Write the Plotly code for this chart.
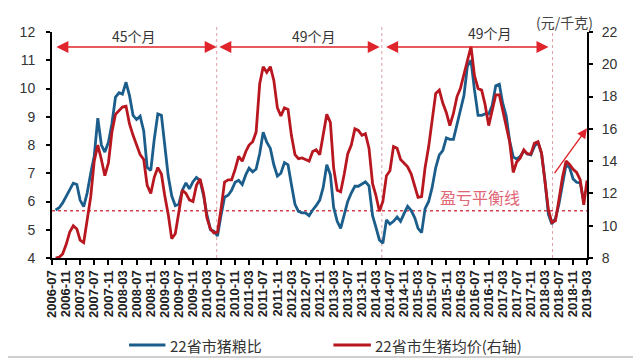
import pandas as pd
import plotly.graph_objects as go

# ---------------- data ----------------
start_month = "2006-08-01"
tick_start, tick_end = "2006-07-01", "2019-03-01"

ratio_22 = [5.7, 5.78, 5.95, 6.2, 6.4, 6.65, 6.6, 6.05, 5.82, 6.3, 7.0, 7.6, 8.95, 8.0, 7.75, 8.1,
            8.75, 9.7, 9.85, 9.8, 10.22, 9.75, 9.05, 8.9, 9.02, 8.5, 7.2, 7.1, 8.2, 9.1, 9.05, 8.0,
            6.9, 6.2, 5.85, 5.9, 6.4, 6.66, 6.45, 6.7, 6.85, 6.75, 6.2, 5.55, 5.0, 4.95, 4.78, 5.5,
            6.15, 6.22, 6.4, 6.68, 6.75, 6.6, 6.95, 7.18, 7.05, 7.15, 7.7, 8.45, 8.1, 7.88, 7.3, 6.9,
            7.0, 7.38, 7.3, 6.6, 5.9, 5.65, 5.6, 5.6, 5.5, 5.7, 5.85, 6.05, 6.5, 7.3, 6.95, 5.8,
            5.3, 5.05, 5.55, 6.0, 6.3, 6.54, 6.54, 6.62, 6.7, 6.55, 5.5, 5.1, 4.64, 4.52, 5.35, 5.2,
            5.3, 5.45, 5.3, 5.58, 5.83, 5.68, 5.42, 5.05, 4.9, 5.75, 6.0, 6.5, 7.2, 7.65, 7.8, 8.25,
            8.2, 8.2, 8.7, 9.2, 9.75, 10.8, 11.0, 9.95, 9.05, 9.05, 9.1, 9.1, 9.4, 10.1, 10.15, 9.5,
            9.03, 8.15, 7.58, 7.5, 7.6, 7.8, 7.68, 7.65, 7.95, 8.1, 7.7, 6.8, 5.55, 5.2, 5.4, 5.9,
            6.6, 7.3, 7.2, 6.8, 6.68, 6.66, 6.0]

price_22 = [8.0, 8.05, 8.25, 8.85, 9.6, 10.0, 9.8, 9.1, 8.95, 10.5, 11.8, 14.0, 15.0, 14.1, 13.1, 13.9,
            15.8, 16.9, 17.15, 17.35, 17.4, 16.3, 15.6, 15.0, 14.4, 14.1, 12.5, 12.0, 13.0, 13.6, 13.2, 11.9,
            10.7, 9.2, 9.5, 10.8, 12.2, 12.0, 11.6, 11.5, 12.5, 12.9, 12.0, 10.5, 9.8, 9.55, 9.6, 11.0,
            12.7, 12.84, 12.84, 13.5, 14.3, 14.0, 14.6, 15.0, 15.2, 15.8, 18.8, 19.85, 19.5, 19.85, 19.0, 17.3,
            16.8, 17.3, 17.2, 15.6, 14.4, 14.15, 14.2, 14.1, 14.0, 14.6, 14.7, 14.4, 15.7, 16.9, 16.4, 13.6,
            12.2, 12.1, 13.2, 14.45, 15.0, 16.0, 15.9, 15.6, 15.7, 14.8, 12.6, 11.9, 10.9, 11.5, 13.1, 13.4,
            14.9, 14.8, 14.1, 13.9, 13.65, 13.2, 12.5, 11.75, 11.8, 13.6, 14.9, 16.6, 18.2, 18.4, 17.6, 17.0,
            16.2, 16.95, 18.0, 18.5, 19.4, 20.3, 21.1, 19.3, 18.5, 18.4, 17.5, 16.2, 17.1, 18.1, 18.1, 17.2,
            16.0, 15.2, 13.3, 13.95, 14.2, 14.7, 14.45, 14.45, 15.1, 15.2, 14.5, 13.0, 11.0, 10.2, 10.3, 11.6,
            13.0, 14.0, 13.8, 13.5, 13.3, 12.85, 11.3, 12.8]

breakeven_ratio = 5.67
cycle_labels = ["45个月", "49个月", "49个月"]
cycle_bounds = [("2006-07-26", "2010-05-25"), ("2010-06-04", "2014-04-04"), ("2014-05-16", "2018-04-02")]
cycle_label_x = ["2008-06-10", "2012-09-10", "2016-11-15"]
cycle_label_y = [11.5, 11.5, 11.62]
cycle_divs = ["2010-05-25", "2014-04-22", "2018-05-07"]
name_ratio = "22省市猪粮比"
name_price = "22省市生猪均价(右轴)"

# ---------------- figure ----------------
BLUE = "#1b5d8b"
RED = "#b8171f"
ARROW = "#e0242b"
FONT = "Liberation Sans, Arial, sans-serif"
CJK = "Noto Sans CJK SC, sans-serif"

x_ratio = pd.date_range(start_month, periods=len(ratio_22), freq="MS")
x_price = pd.date_range(start_month, periods=len(price_22), freq="MS")
ticks = pd.date_range(tick_start, tick_end, freq="4MS")

fig = go.Figure()
fig.add_trace(go.Scatter(x=x_ratio, y=ratio_22, mode="lines", name=name_ratio,
                         line=dict(color=BLUE, width=2.8), showlegend=False))
fig.add_trace(go.Scatter(x=x_price, y=price_22, mode="lines", name=name_price, yaxis="y2",
                         line=dict(color=RED, width=2.8), showlegend=False))

# break-even line
fig.add_shape(type="line", xref="paper", yref="y", x0=0, x1=1, y0=breakeven_ratio, y1=breakeven_ratio,
              line=dict(color="#d9414c", width=1.6, dash="dot"), layer="below")

# cycle dividers
for d in cycle_divs:
    fig.add_shape(type="line", xref="x", yref="paper", x0=d, x1=d, y0=0, y1=1.03,
                  line=dict(color="#dba0a6", width=1, dash="dot"), layer="below")

# cycle arrows + labels
for (a, b), lab, lx, ly in zip(cycle_bounds, cycle_labels, cycle_label_x, cycle_label_y):
    fig.add_annotation(x=b, y=11.47, ax=a, ay=11.47, xref="x", yref="y", axref="x", ayref="y",
                       text="", showarrow=True, arrowhead=2, startarrowhead=2, arrowside="end+start",
                       arrowsize=1.6, startarrowsize=1.6, arrowwidth=1.5, arrowcolor=ARROW)
    fig.add_annotation(x=lx, y=ly, xref="x", yref="y", text=lab, showarrow=False,
                       xanchor="center", yanchor="bottom", yshift=-2,
                       font=dict(family=CJK, size=14, color="#333333"))

# rising arrow at the end
fig.add_annotation(x="2019-03-01", y=8.59, ax="2018-05-15", ay=6.95, xref="x", yref="y",
                   axref="x", ayref="y", text="", showarrow=True, arrowhead=2, arrowsize=1.4,
                   arrowwidth=1.4, arrowcolor=ARROW)

fig.add_annotation(xref="paper", yref="paper", x=0.80, y=0.27, text="盈亏平衡线", showarrow=False,
                   xanchor="center", yanchor="middle",
                   font=dict(family=CJK, size=16, color="#e06676"))
fig.add_annotation(xref="paper", yref="paper", x=0.958, y=1.044, text="(元/千克)", showarrow=False,
                   xanchor="center", yanchor="middle",
                   font=dict(family=CJK, size=14, color="#444444"))

# manual legend
leg_y = -0.385
fig.add_shape(type="line", xref="paper", yref="paper", x0=0.144, x1=0.212, y0=leg_y, y1=leg_y,
              line=dict(color=BLUE, width=3))
fig.add_annotation(xref="paper", yref="paper", x=0.216, y=leg_y, text=name_ratio, showarrow=False,
                   xanchor="left", yanchor="middle", font=dict(family=CJK, size=15, color="#333333"))
fig.add_shape(type="line", xref="paper", yref="paper", x0=0.526, x1=0.596, y0=leg_y, y1=leg_y,
              line=dict(color=RED, width=3))
fig.add_annotation(xref="paper", yref="paper", x=0.600, y=leg_y, text=name_price, showarrow=False,
                   xanchor="left", yanchor="middle", font=dict(family=CJK, size=15, color="#333333"))

# outer frame (right and bottom edges visible)
fig.add_shape(type="rect", xref="paper", yref="paper", x0=-0.2, x1=1.094, y0=-0.438, y1=1.3,
              line=dict(color="#cfcfcf", width=2))

# page body has an 8px margin: shrink the figure so the plot area lands at 45..587 x 32..258
fig.update_layout(
    width=633, height=351,
    margin=dict(l=37, r=54, t=24, b=101),
    paper_bgcolor="white", plot_bgcolor="white",
    font=dict(family=FONT, color="#333333"),
    xaxis=dict(type="date", range=[tick_start, tick_end], tickvals=ticks,
               ticktext=[t.strftime("%Y-%m") for t in ticks], tickangle=-90,
               tickfont=dict(family=FONT, size=13, color="#222222", weight="bold"),
               showgrid=False, zeroline=False, showline=True, linecolor="black", linewidth=2,
               ticks="outside", ticklen=5, tickwidth=2, tickcolor="black"),
    yaxis=dict(range=[4, 12], dtick=1, showgrid=False, zeroline=False, showline=True,
               linecolor="black", linewidth=2, ticks="outside", ticklen=4, tickwidth=2,
               tickcolor="black", ticklabelstandoff=8,
               tickfont=dict(family=FONT, size=14, color="#333333")),
    yaxis2=dict(range=[8, 22], dtick=2, overlaying="y", side="right", showgrid=False,
                zeroline=False, showline=True, linecolor="black", linewidth=2, ticks="outside",
                ticklen=4, tickwidth=2, tickcolor="black", ticklabelstandoff=6,
                tickfont=dict(family=FONT, size=14, color="#333333")),
)

fig.write_html("out.html")
